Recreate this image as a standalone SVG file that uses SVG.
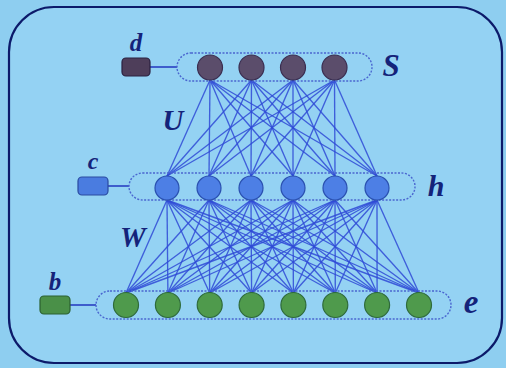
<svg xmlns="http://www.w3.org/2000/svg" width="506" height="368" viewBox="0 0 506 368">
<defs>
<style>
.bg{fill:#8ecef0}
.frame{fill:#94d2f3;stroke:#0c1a6a;stroke-width:2.2}
.cont{fill:none;stroke:#4a66d0;stroke-width:1.4;stroke-dasharray:2 1.5}
.lnk{stroke:#2f4ad6;stroke-width:1.35;stroke-opacity:0.85}
.bl{stroke:#3550c8;stroke-width:1.8}
.lab{font-family:"Liberation Serif","DejaVu Serif",serif;font-weight:bold;font-style:italic;fill:#14237a;text-anchor:middle}
.s{fill:#5b4d6b;stroke:#3a2d50;stroke-width:1.2}
.h{fill:#4d7fe5;stroke:#2a50b0;stroke-width:1.2}
.e{fill:#4f9a4c;stroke:#2e6a3a;stroke-width:1.2}
</style>
</defs>
<rect class="bg" x="0" y="0" width="506" height="368"/>
<rect class="frame" x="9" y="7" width="493" height="356" rx="45"/>
<g id="connectors">
<g id="U-links" class="lnk">
<line x1="210" y1="80" x2="167" y2="176"/><line x1="210" y1="80" x2="209" y2="176"/><line x1="210" y1="80" x2="251" y2="176"/><line x1="210" y1="80" x2="293" y2="176"/><line x1="210" y1="80" x2="335" y2="176"/><line x1="210" y1="80" x2="377" y2="176"/>
<line x1="251.5" y1="80" x2="167" y2="176"/><line x1="251.5" y1="80" x2="209" y2="176"/><line x1="251.5" y1="80" x2="251" y2="176"/><line x1="251.5" y1="80" x2="293" y2="176"/><line x1="251.5" y1="80" x2="335" y2="176"/><line x1="251.5" y1="80" x2="377" y2="176"/>
<line x1="293" y1="80" x2="167" y2="176"/><line x1="293" y1="80" x2="209" y2="176"/><line x1="293" y1="80" x2="251" y2="176"/><line x1="293" y1="80" x2="293" y2="176"/><line x1="293" y1="80" x2="335" y2="176"/><line x1="293" y1="80" x2="377" y2="176"/>
<line x1="334.5" y1="80" x2="167" y2="176"/><line x1="334.5" y1="80" x2="209" y2="176"/><line x1="334.5" y1="80" x2="251" y2="176"/><line x1="334.5" y1="80" x2="293" y2="176"/><line x1="334.5" y1="80" x2="335" y2="176"/><line x1="334.5" y1="80" x2="377" y2="176"/>
</g>
<g id="W-links" class="lnk">
<line x1="167" y1="200" x2="126" y2="293"/><line x1="167" y1="200" x2="167.9" y2="293"/><line x1="167" y1="200" x2="209.7" y2="293"/><line x1="167" y1="200" x2="251.6" y2="293"/><line x1="167" y1="200" x2="293.4" y2="293"/><line x1="167" y1="200" x2="335.3" y2="293"/><line x1="167" y1="200" x2="377.1" y2="293"/><line x1="167" y1="200" x2="419" y2="293"/>
<line x1="209" y1="200" x2="126" y2="293"/><line x1="209" y1="200" x2="167.9" y2="293"/><line x1="209" y1="200" x2="209.7" y2="293"/><line x1="209" y1="200" x2="251.6" y2="293"/><line x1="209" y1="200" x2="293.4" y2="293"/><line x1="209" y1="200" x2="335.3" y2="293"/><line x1="209" y1="200" x2="377.1" y2="293"/><line x1="209" y1="200" x2="419" y2="293"/>
<line x1="251" y1="200" x2="126" y2="293"/><line x1="251" y1="200" x2="167.9" y2="293"/><line x1="251" y1="200" x2="209.7" y2="293"/><line x1="251" y1="200" x2="251.6" y2="293"/><line x1="251" y1="200" x2="293.4" y2="293"/><line x1="251" y1="200" x2="335.3" y2="293"/><line x1="251" y1="200" x2="377.1" y2="293"/><line x1="251" y1="200" x2="419" y2="293"/>
<line x1="293" y1="200" x2="126" y2="293"/><line x1="293" y1="200" x2="167.9" y2="293"/><line x1="293" y1="200" x2="209.7" y2="293"/><line x1="293" y1="200" x2="251.6" y2="293"/><line x1="293" y1="200" x2="293.4" y2="293"/><line x1="293" y1="200" x2="335.3" y2="293"/><line x1="293" y1="200" x2="377.1" y2="293"/><line x1="293" y1="200" x2="419" y2="293"/>
<line x1="335" y1="200" x2="126" y2="293"/><line x1="335" y1="200" x2="167.9" y2="293"/><line x1="335" y1="200" x2="209.7" y2="293"/><line x1="335" y1="200" x2="251.6" y2="293"/><line x1="335" y1="200" x2="293.4" y2="293"/><line x1="335" y1="200" x2="335.3" y2="293"/><line x1="335" y1="200" x2="377.1" y2="293"/><line x1="335" y1="200" x2="419" y2="293"/>
<line x1="377" y1="200" x2="126" y2="293"/><line x1="377" y1="200" x2="167.9" y2="293"/><line x1="377" y1="200" x2="209.7" y2="293"/><line x1="377" y1="200" x2="251.6" y2="293"/><line x1="377" y1="200" x2="293.4" y2="293"/><line x1="377" y1="200" x2="335.3" y2="293"/><line x1="377" y1="200" x2="377.1" y2="293"/><line x1="377" y1="200" x2="419" y2="293"/>
</g>
<line class="bl" x1="150" y1="67" x2="177" y2="67"/>
<line class="bl" x1="108" y1="186" x2="129" y2="186"/>
<line class="bl" x1="70" y1="305" x2="96" y2="305"/>
</g>
<g id="layer-S">
<rect class="cont" x="177" y="53" width="195" height="28" rx="14"/>
<circle class="s" cx="210" cy="67.5" r="12.5"/><circle class="s" cx="251.5" cy="67.5" r="12.5"/><circle class="s" cx="293" cy="67.5" r="12.5"/><circle class="s" cx="334.5" cy="67.5" r="12.5"/>
<text class="lab" x="391" y="76" font-size="31">S</text>
</g>
<g id="bias-d">
<rect x="122" y="58" width="28" height="18" rx="4" fill="#4e3e5a" stroke="#2a2040" stroke-width="1.2"/>
<text class="lab" x="136" y="51" font-size="25">d</text>
</g>
<g id="layer-h">
<rect class="cont" x="129" y="173" width="286" height="27" rx="13.5"/>
<circle class="h" cx="167" cy="188" r="12"/><circle class="h" cx="209" cy="188" r="12"/><circle class="h" cx="251" cy="188" r="12"/><circle class="h" cx="293" cy="188" r="12"/><circle class="h" cx="335" cy="188" r="12"/><circle class="h" cx="377" cy="188" r="12"/>
<text class="lab" x="436" y="196" font-size="30">h</text>
</g>
<g id="bias-c">
<rect x="78" y="177" width="30" height="18" rx="4" fill="#4a7ce0" stroke="#2a4aa0" stroke-width="1.2"/>
<text class="lab" x="93" y="169" font-size="24">c</text>
</g>
<g id="layer-e">
<rect class="cont" x="96" y="291" width="355" height="28" rx="14"/>
<circle class="e" cx="126" cy="305" r="12.5"/><circle class="e" cx="167.9" cy="305" r="12.5"/><circle class="e" cx="209.7" cy="305" r="12.5"/><circle class="e" cx="251.6" cy="305" r="12.5"/><circle class="e" cx="293.4" cy="305" r="12.5"/><circle class="e" cx="335.3" cy="305" r="12.5"/><circle class="e" cx="377.1" cy="305" r="12.5"/><circle class="e" cx="419" cy="305" r="12.5"/>
<text class="lab" x="471" y="313" font-size="33">e</text>
</g>
<g id="bias-b">
<rect x="40" y="296" width="30" height="18" rx="4" fill="#4a9048" stroke="#2a6030" stroke-width="1.2"/>
<text class="lab" x="55" y="290" font-size="25">b</text>
</g>
<g id="labels">
<text class="lab" x="173" y="130" font-size="29">U</text>
<text class="lab" x="133" y="247" font-size="29">W</text>
</g>
</svg>
